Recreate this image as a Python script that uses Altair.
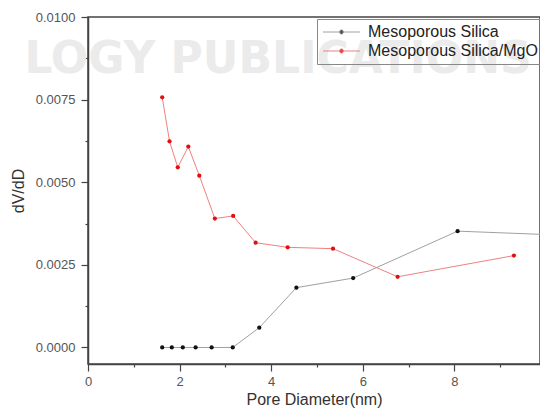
import altair as alt
import pandas as pd

series_names = ["Mesoporous Silica", "Mesoporous Silica/MgO"]

silica_x = [1.62, 1.83, 2.07, 2.35, 2.70, 3.16, 3.74, 4.55, 5.79, 8.07, 10.9]
silica_y = [0.0, 0.0, 0.0, 0.0, 0.0, 0.0, 0.00060, 0.00181, 0.00210, 0.00352, 0.00337]

mgo_x = [1.62, 1.78, 1.96, 2.19, 2.43, 2.77, 3.17, 3.66, 4.36, 5.35, 6.76, 9.30]
mgo_y = [0.00757, 0.00624, 0.00545, 0.00608, 0.00520, 0.00390, 0.00398, 0.00317,
         0.00303, 0.00299, 0.00214, 0.00278]

x_ticks = [0, 1, 2, 3, 4, 5, 6, 7, 8, 9]
y_ticks = [0.0, 0.00125, 0.0025, 0.00375, 0.005, 0.00625, 0.0075, 0.00875, 0.01]

watermark_text = ["LOGY PUBLICATIONS"]

rows = []
for xv, yv in zip(silica_x, silica_y):
    rows.append({"d": xv, "v": yv, "series": series_names[0]})
for xv, yv in zip(mgo_x, mgo_y):
    rows.append({"d": xv, "v": yv, "series": series_names[1]})
df = pd.DataFrame(rows)

FONT = "Liberation Sans"
sym_path = "M-2.64,0H2.64M-0.29,0A0.29,0.29,0,1,0,0.29,0A0.29,0.29,0,1,0,-0.29,0Z"

major_y = "abs(datum.value/0.0025 - round(datum.value/0.0025)) < 0.000001"

x_enc = alt.X(
    "d:Q",
    scale=alt.Scale(domain=[0, 9.869], nice=False, zero=False),
    axis=alt.Axis(
        title="Pore Diameter(nm)",
        values=x_ticks,
        labelExpr="datum.value % 2 == 0 ? datum.label : ''",
        tickSize={"condition": {"test": "datum.value % 2 == 0", "value": 7}, "value": 3},
        labelPadding=4,
        titlePadding=3,
        grid=False,
    ),
)
y_enc = alt.Y(
    "v:Q",
    scale=alt.Scale(domain=[-0.0005, 0.0100], nice=False, zero=False),
    axis=alt.Axis(
        title="dV/dD",
        values=y_ticks,
        format=".4f",
        labelExpr=major_y + " ? datum.label : ''",
        tickSize={"condition": {"test": major_y, "value": 7}, "value": 3},
        labelPadding=6,
        titlePadding=9,
        grid=False,
    ),
)

legend_common = dict(
    title=None,
    orient="none",
    legendX=229,
    legendY=2,
    padding=5,
    strokeColor="#888888",
    labelFont=FONT,
    labelFontSize=16,
    labelColor="#222222",
    labelLimit=400,
    symbolType=sym_path,
    symbolSize=196,
    symbolStrokeWidth=1,
    symbolOffset=11.5,
    labelOffset=18.5,
    rowPadding=3,
)

wm = alt.Chart(pd.DataFrame({"t": watermark_text})).mark_text(
    font="DejaVu Sans", fontWeight="bold", fontSize=44, color="#ebebeb", clip=False
).encode(text="t:N", x=alt.datum(4.15), y=alt.datum(0.0087))

lines = alt.Chart(df).mark_line(strokeWidth=1, clip=True).encode(
    x=x_enc,
    y=y_enc,
    stroke=alt.Stroke(
        "series:N",
        scale=alt.Scale(domain=series_names, range=["#a0a0a0", "#ef8080"]),
        legend=alt.Legend(**legend_common),
    ),
)

points = alt.Chart(df).mark_circle(size=18, opacity=1, clip=True).encode(
    x="d:Q",
    y="v:Q",
    fill=alt.Fill(
        "series:N",
        scale=alt.Scale(domain=series_names, range=["#111111", "#e01010"]),
        legend=alt.Legend(**legend_common),
    ),
)

chart = (
    alt.layer(wm, lines, points)
    .properties(
        width=452,
        height=347,
        autosize=alt.AutoSizeParams(type="none"),
        padding={"left": 80, "top": 9, "right": 0, "bottom": 46},
        background="white",
    )
    .configure_view(stroke="#444444", strokeWidth=1.5)
    .configure_axis(
        domainColor="#444444",
        domainWidth=1.5,
        tickColor="#444444",
        tickWidth=1.2,
        labelFont=FONT,
        labelFontSize=13,
        labelColor="#555555",
        labelFlush=False,
        titleFont=FONT,
        titleFontSize=16,
        titleFontWeight="normal",
        titleColor="#333333",
    )
)

chart.save("out.html", embed_options={"renderer": "svg", "actions": False})
